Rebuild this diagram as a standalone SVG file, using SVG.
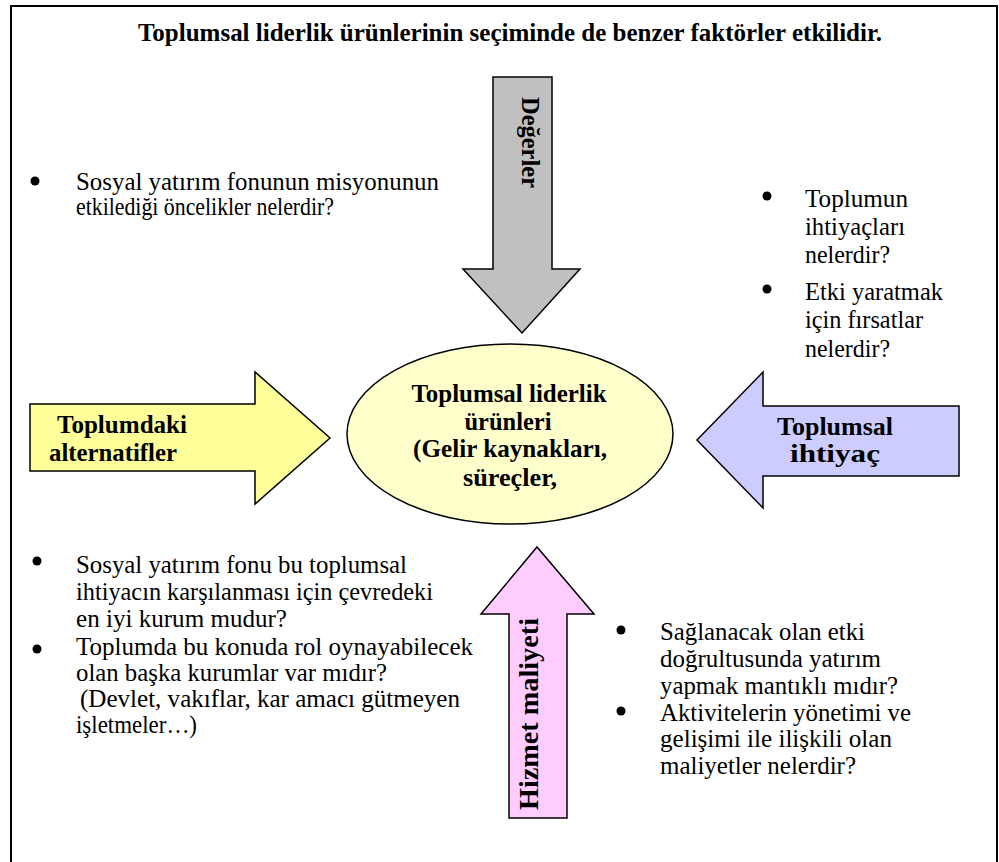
<svg xmlns="http://www.w3.org/2000/svg" width="999" height="862" viewBox="0 0 999 862">
  <style>
    .t { font-family: "Liberation Serif", "Times New Roman", "DejaVu Serif", serif; font-size: 24.5px; fill: #000; }
    .b { font-weight: bold; }
    .shape { stroke: #000; stroke-width: 1.5; stroke-linejoin: miter; }
    .frame { fill: #fff; stroke: #000; stroke-width: 2; }
    .dot { fill: #000; }
  </style>
  <rect x="0" y="0" width="999" height="862" fill="#fff"/>
  <rect class="frame" x="11" y="6" width="986" height="900"/>

  <g id="title">
    <text class="t b" x="510" y="41" text-anchor="middle" textLength="744" lengthAdjust="spacingAndGlyphs">Toplumsal liderlik ürünlerinin seçiminde de benzer faktörler etkilidir.</text>
  </g>

  <g id="connectors">
    <g id="arrow-degerler">
      <polygon class="shape" fill="#c0c0c0" points="493,77 552,77 552,269 580,269 522,333 463,269 493,269"/>
      <text class="t b" transform="translate(522,142.5) rotate(90)" text-anchor="middle" textLength="91" lengthAdjust="spacingAndGlyphs">Değerler</text>
    </g>
    <g id="arrow-alternatifler">
      <polygon class="shape" fill="#ffff99" points="30,404 255,404 255,372 330,438 255,504 255,471 30,471"/>
      <text class="t b" x="57" y="433" textLength="130" lengthAdjust="spacingAndGlyphs">Toplumdaki</text>
      <text class="t b" x="49" y="461" textLength="128" lengthAdjust="spacingAndGlyphs">alternatifler</text>
    </g>
    <g id="arrow-ihtiyac">
      <polygon class="shape" fill="#ccccff" points="959,406 763,406 763,372 697,440 763,508 763,476 959,476"/>
      <text class="t b" x="777" y="435" textLength="116" lengthAdjust="spacingAndGlyphs">Toplumsal</text>
      <text class="t b" x="790" y="462" textLength="90" lengthAdjust="spacingAndGlyphs">ihtiyaç</text>
    </g>
    <g id="arrow-maliyet">
      <polygon class="shape" fill="#ffccff" points="509,818 567,818 567,614 594,614 537,547 481,614 509,614"/>
      <text class="t b" style="font-size:27px" transform="translate(538,714) rotate(-90)" text-anchor="middle" textLength="192" lengthAdjust="spacingAndGlyphs">Hizmet maliyeti</text>
    </g>
  </g>

  <g id="center-node">
    <ellipse class="shape" fill="#ffffcc" cx="510" cy="434" rx="163" ry="90"/>
    <text class="t b" x="509" y="402" text-anchor="middle" textLength="195" lengthAdjust="spacingAndGlyphs">Toplumsal liderlik</text>
    <text class="t b" x="508" y="430" text-anchor="middle" textLength="87" lengthAdjust="spacingAndGlyphs">ürünleri</text>
    <text class="t b" x="510" y="457" text-anchor="middle" textLength="194" lengthAdjust="spacingAndGlyphs">(Gelir kaynakları,</text>
    <text class="t b" x="510" y="486" text-anchor="middle" textLength="94" lengthAdjust="spacingAndGlyphs">süreçler,</text>
  </g>

  <g id="notes-values">
    <circle class="dot" cx="35" cy="181" r="4.5"/>
    <text class="t" x="76" y="190" textLength="363" lengthAdjust="spacingAndGlyphs">Sosyal yatırım fonunun misyonunun</text>
    <text class="t" x="76" y="215" textLength="258" lengthAdjust="spacingAndGlyphs">etkilediği  öncelikler nelerdir?</text>
  </g>

  <g id="notes-need">
    <circle class="dot" cx="767" cy="196" r="4.5"/>
    <text class="t" x="805" y="207" textLength="103" lengthAdjust="spacingAndGlyphs">Toplumun</text>
    <text class="t" x="805" y="235" textLength="100" lengthAdjust="spacingAndGlyphs">ihtiyaçları</text>
    <text class="t" x="805" y="263" textLength="85" lengthAdjust="spacingAndGlyphs">nelerdir?</text>
    <circle class="dot" cx="767" cy="289" r="4.5"/>
    <text class="t" x="805" y="300" textLength="138" lengthAdjust="spacingAndGlyphs">Etki yaratmak</text>
    <text class="t" x="805" y="328" textLength="118" lengthAdjust="spacingAndGlyphs">için fırsatlar</text>
    <text class="t" x="805" y="357" textLength="85" lengthAdjust="spacingAndGlyphs">nelerdir?</text>
  </g>

  <g id="notes-alternatives">
    <circle class="dot" cx="37" cy="561" r="4.5"/>
    <text class="t" x="76" y="573" textLength="331" lengthAdjust="spacingAndGlyphs">Sosyal yatırım fonu bu toplumsal</text>
    <text class="t" x="76" y="600" textLength="357" lengthAdjust="spacingAndGlyphs">ihtiyacın karşılanması için çevredeki</text>
    <text class="t" x="76" y="627" textLength="211" lengthAdjust="spacingAndGlyphs">en iyi kurum mudur?</text>
    <circle class="dot" cx="37" cy="649" r="4.5"/>
    <text class="t" x="76" y="655" textLength="397" lengthAdjust="spacingAndGlyphs">Toplumda bu konuda rol oynayabilecek</text>
    <text class="t" x="76" y="681" textLength="311" lengthAdjust="spacingAndGlyphs">olan başka kurumlar var mıdır?</text>
    <text class="t" x="80" y="707" textLength="380" lengthAdjust="spacingAndGlyphs">(Devlet, vakıflar, kar amacı gütmeyen</text>
    <text class="t" x="76" y="733" textLength="121" lengthAdjust="spacingAndGlyphs">işletmeler…)</text>
  </g>

  <g id="notes-cost">
    <circle class="dot" cx="621" cy="630" r="4.5"/>
    <text class="t" x="660" y="640" textLength="205" lengthAdjust="spacingAndGlyphs">Sağlanacak olan etki</text>
    <text class="t" x="660" y="667" textLength="221" lengthAdjust="spacingAndGlyphs">doğrultusunda yatırım</text>
    <text class="t" x="660" y="694" textLength="238" lengthAdjust="spacingAndGlyphs">yapmak mantıklı mıdır?</text>
    <circle class="dot" cx="621" cy="711" r="4.5"/>
    <text class="t" x="660" y="721" textLength="251" lengthAdjust="spacingAndGlyphs">Aktivitelerin yönetimi ve</text>
    <text class="t" x="660" y="747" textLength="232" lengthAdjust="spacingAndGlyphs">gelişimi ile ilişkili olan</text>
    <text class="t" x="660" y="774" textLength="196" lengthAdjust="spacingAndGlyphs">maliyetler nelerdir?</text>
  </g>
</svg>
